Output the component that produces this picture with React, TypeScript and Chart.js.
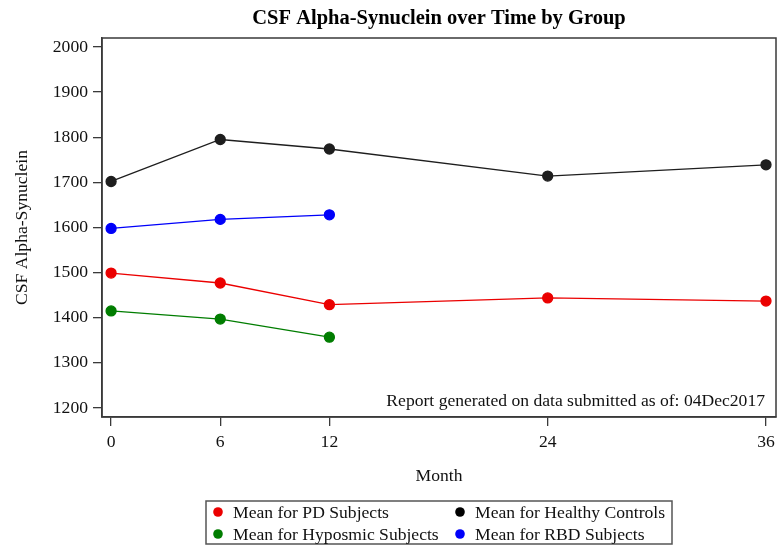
import React, { useEffect, useRef } from "react";
import { Chart, registerables } from "chart.js";

Chart.register(...registerables);

const months = [0, 6, 12, 24, 36];
const pdMeans = [1499, 1477, 1429, 1444, 1437];
const healthyMeans = [1702, 1795, 1774, 1714, 1739];
const hyposmicMonths = [0, 6, 12];
const hyposmicMeans = [1415, 1397, 1357];
const rbdMonths = [0, 6, 12];
const rbdMeans = [1598, 1618, 1628];
const xTicks = [0, 6, 12, 24, 36];
const yTicks = [1200, 1300, 1400, 1500, 1600, 1700, 1800, 1900, 2000];

const FONT = "'Liberation Serif', 'Times New Roman', serif";
const FS = 17.6;

const seriesNames = [
  "Mean for PD Subjects",
  "Mean for Healthy Controls",
  "Mean for Hyposmic Subjects",
  "Mean for RBD Subjects",
];
const RED = "rgb(235,0,0)";
const BLACK = "rgb(0,0,0)";
const GREEN = "rgb(0,125,0)";
const BLUE = "rgb(0,0,250)";

const toPts = (xs: number[], ys: number[]) => xs.map((x, i) => ({ x, y: ys[i] }));

const framePlugin = {
  id: "frameAndExtras",
  afterDraw(chart: any) {
    const { ctx, chartArea } = chart;
    ctx.save();
    // frame
    ctx.strokeStyle = "#3a3a3a";
    ctx.lineWidth = 1.5;
    ctx.strokeRect(chartArea.left, chartArea.top, chartArea.right - chartArea.left, chartArea.bottom - chartArea.top);
    // annotation
    ctx.fillStyle = "#111";
    ctx.font = `${FS}px ${FONT}`;
    ctx.textAlign = "right";
    ctx.textBaseline = "middle";
    ctx.fillText("Report generated on data submitted as of: 04Dec2017", chartArea.right - 11, chartArea.bottom - 16);
    // legend box
    const bx = 206, by = 501, bw = 466, bh = 43;
    ctx.strokeStyle = "#555";
    ctx.lineWidth = 1.5;
    ctx.strokeRect(bx, by, bw, bh);
    const items = [
      { name: seriesNames[0], color: RED, x: 218, y: 512 },
      { name: seriesNames[1], color: BLACK, x: 460, y: 512 },
      { name: seriesNames[2], color: GREEN, x: 218, y: 534 },
      { name: seriesNames[3], color: BLUE, x: 460, y: 534 },
    ];
    ctx.textAlign = "left";
    for (const it of items) {
      ctx.beginPath();
      ctx.fillStyle = it.color;
      ctx.arc(it.x, it.y, 4.8, 0, Math.PI * 2);
      ctx.fill();
      ctx.fillStyle = "#111";
      ctx.fillText(it.name, it.x + 15, it.y + 1);
    }
    ctx.restore();
  },
};

export default function App() {
  const ref = useRef<HTMLCanvasElement>(null);
  useEffect(() => {
    if (!ref.current) return;
    const mk = (label: string, data: any[], color: string) => ({
      label,
      data,
      borderColor: color,
      backgroundColor: color,
      pointBackgroundColor: color,
      pointBorderColor: color,
      pointRadius: 5,
      borderWidth: 1.3,
      tension: 0,
      fill: false,
    });
    const chart = new Chart(ref.current, {
      type: "line",
      data: {
        datasets: [
          mk(seriesNames[0], toPts(months, pdMeans), RED),
          mk(seriesNames[1], toPts(months, healthyMeans), "rgb(30,30,30)"),
          mk(seriesNames[2], toPts(hyposmicMonths, hyposmicMeans), GREEN),
          mk(seriesNames[3], toPts(rbdMonths, rbdMeans), BLUE),
        ],
      },
      options: {
        animation: false,
        responsive: false,
        layout: { padding: { top: 0, right: 7, bottom: 62, left: 0 } },
        plugins: {
          legend: { display: false },
          tooltip: { enabled: false },
          title: {
            display: true,
            fullSize: false,
            text: "CSF Alpha-Synuclein over Time by Group",
            color: "#000",
            font: { family: FONT, size: 20.5, weight: "bold", lineHeight: 1.2 },
            padding: { top: 6, bottom: 7.4 },
          },
        },
        scales: {
          x: {
            type: "linear",
            min: -0.5,
            max: 36.55,
            afterBuildTicks: (s: any) => {
              s.ticks = xTicks.map((v) => ({ value: v }));
            },
            afterFit: (s: any) => {
              s.height = 70;
            },
            grid: { display: true, drawOnChartArea: false, drawTicks: true, tickLength: 9, color: "#3a3a3a", lineWidth: 1.3 },
            border: { display: true, color: "#3a3a3a", width: 1.5 },
            ticks: { color: "#111", font: { family: FONT, size: FS }, padding: 6, maxRotation: 0, autoSkip: false, callback: (v: any) => String(v) },
            title: { display: true, text: "Month", color: "#111", font: { family: FONT, size: FS }, padding: { top: 0, bottom: 0 } },
          },
          y: {
            type: "linear",
            min: 1180,
            max: 2020,
            afterBuildTicks: (s: any) => {
              s.ticks = yTicks.map((v) => ({ value: v }));
            },
            afterFit: (s: any) => {
              s.width = 102;
            },
            grid: { display: true, drawOnChartArea: false, drawTicks: true, tickLength: 9, color: "#3a3a3a", lineWidth: 1.3 },
            border: { display: true, color: "#3a3a3a", width: 1.5 },
            ticks: { color: "#111", font: { family: FONT, size: FS }, padding: 5, autoSkip: false, callback: (v: any) => String(v) },
            title: { display: true, text: "CSF Alpha-Synuclein", color: "#111", font: { family: FONT, size: FS }, padding: { top: 12, bottom: 0 } },
          },
        },
      },
      plugins: [framePlugin],
    });
    return () => chart.destroy();
  }, []);
  return (
    <div style={{ position: "absolute", left: 0, top: 0, width: 783, height: 549, background: "#fff" }}>
      <canvas ref={ref} width={783} height={549} style={{ width: 783, height: 549 }} />
    </div>
  );
}
